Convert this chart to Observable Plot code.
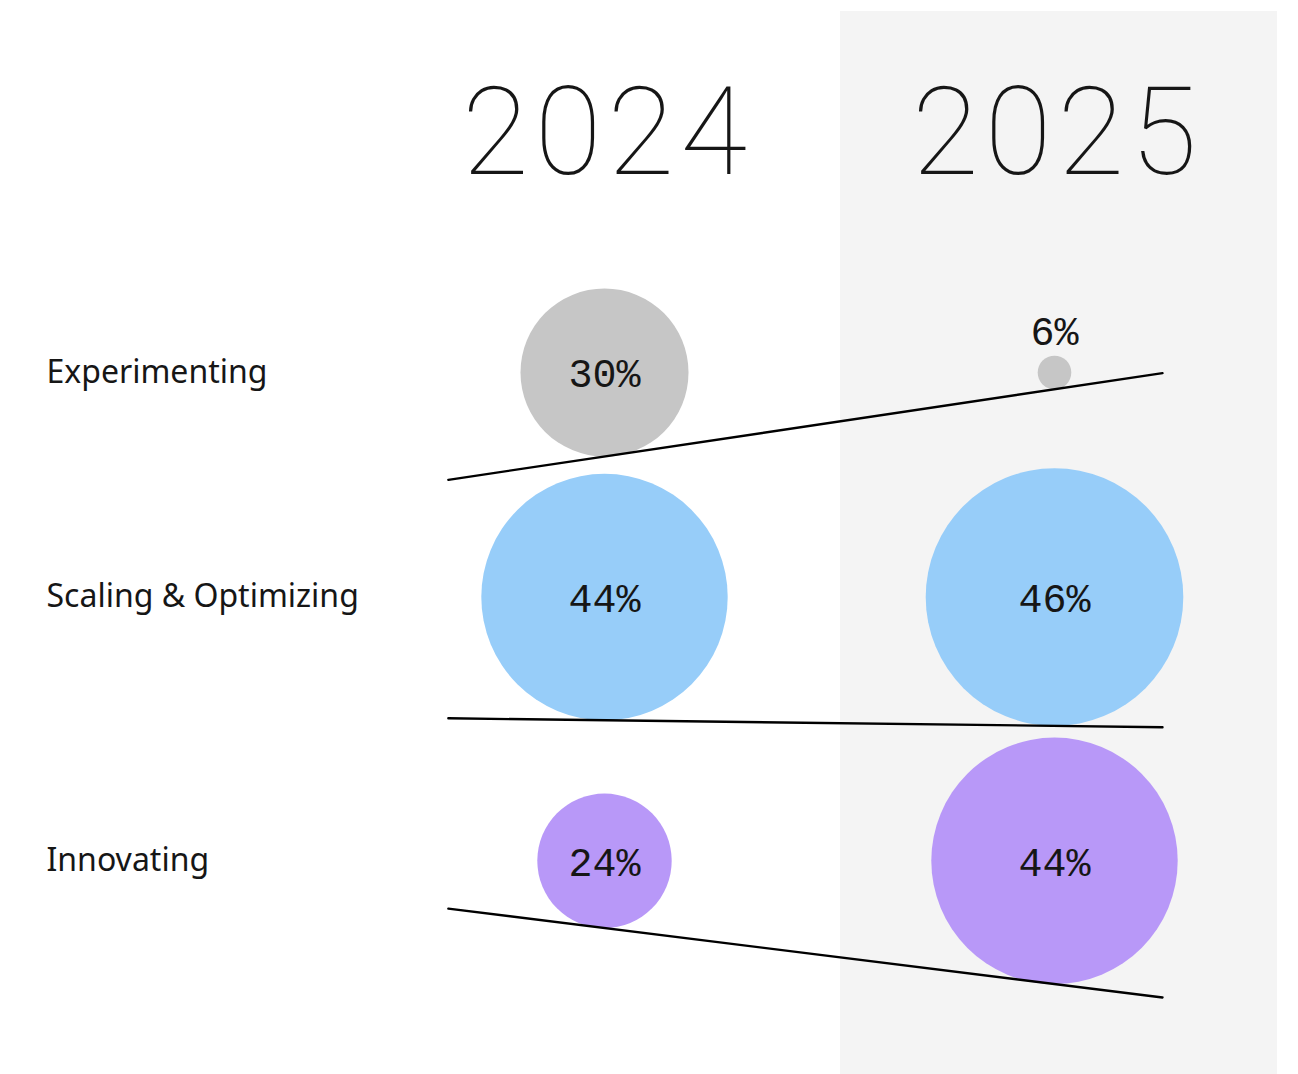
<!DOCTYPE html>
<html><head><meta charset="utf-8">
<script src="https://cdn.jsdelivr.net/npm/d3@7"></script>
<script src="https://cdn.jsdelivr.net/npm/@observablehq/plot@0.6"></script>
<style>
  html, body { margin: 0; padding: 0; background: #ffffff; }
  #chart svg { display: block; overflow: visible; }
  .year-labels text { letter-spacing: 6px; }
</style>
</head><body><div id="chart"></div>
<script>
// ---- data ----
const years = [2024, 2025];
const stages = ["Experimenting", "Scaling & Optimizing", "Innovating"];
const values2024 = [30, 44, 24];
const values2025 = [6, 46, 44];
const stageColors = ["#c6c6c6", "#97cdf9", "#b898f8"];

// ---- layout constants (not data) ----
const W = 1298, H = 1074;
const unit = 2.8;          // pixels per percentage point (bubble radius is linear in value)
const firstRowPx = 372;    // pixel row of first stage centre
const rowGap = 4.2;        // gap between stacked rows, in percentage units
const extLeft = 0.347, extRight = 0.24; // seesaw line extension, in year units

const data = stages.flatMap((stage, i) => [
  {stage, i, year: years[0], value: values2024[i]},
  {stage, i, year: years[1], value: values2025[i]}
]);

// rows stacked by their largest bubble (same units as r)
const rowMax = stages.map((s, i) => Math.max(values2024[i], values2025[i]));
const rowPos = [];
rowMax.forEach((m, i) => rowPos.push(i === 0 ? 0 : rowPos[i - 1] + rowMax[i - 1] + rowGap + m));

// seesaw lines: pass through the bottoms of both bubbles in a row
const lineData = stages.flatMap((stage, i) => {
  const b0 = rowPos[i] + values2024[i];
  const b1 = rowPos[i] + values2025[i];
  const slope = (b1 - b0) / (years[1] - years[0]);
  return [
    {stage, x: years[0] - extLeft, y: b0 - extLeft * slope},
    {stage, x: years[1] + extRight, y: b1 + extRight * slope}
  ];
});

const small = d => d.value < 10;
const pctFont = "'Liberation Mono', 'DejaVu Sans Mono', monospace";

const chart = Plot.plot({
  width: W,
  height: H,
  marginTop: 11, marginBottom: 0, marginLeft: 0, marginRight: 0,
  style: {background: "transparent"},
  x: {type: "linear", domain: [years[0], years[1]], range: [604, 1054], axis: null},
  y: {type: "linear", domain: [-firstRowPx / unit, (H - firstRowPx) / unit], range: [0, H], axis: null},
  r: {type: "linear", domain: [0, 46], range: [0, 46 * unit]},
  color: {domain: stages, range: stageColors},
  marks: [
    Plot.rect([years[1]], {x1: d => d - 0.5, x2: d => d + 0.5, insetLeft: 11, insetRight: 2, fill: "#f4f4f4"}),
    Plot.text(years, {x: d => d, frameAnchor: "top", dy: 123, dx: 3, text: d => String(d), className: "year-labels",
      fontSize: 122, fontWeight: 100, fontFamily: "Roboto, 'DejaVu Sans', sans-serif", fill: "#161616", lineAnchor: "middle"}),
    Plot.text(stages, {y: (d, i) => rowPos[i], frameAnchor: "left", dx: 46, textAnchor: "start",
      text: d => d, fontSize: 32, fontFamily: "'Noto Sans', sans-serif", fill: "#161616"}),
    Plot.dot(data, {x: "year", y: d => rowPos[d.i], r: "value", fill: "stage", stroke: null, sort: null}),
    Plot.line(lineData, {x: "x", y: "y", z: "stage", stroke: "#000000", strokeWidth: 2.4}),
    Plot.text(data.filter(d => !small(d)), {x: "year", y: d => rowPos[d.i], dy: 2, text: d => d.value + "%",
      fontSize: 40, fontFamily: pctFont, fill: "#161616"}),
    Plot.text(data.filter(small), {x: "year", y: d => rowPos[d.i] - d.value, dy: -24, text: d => d.value + "%",
      fontSize: 40, fontFamily: pctFont, fill: "#161616"})
  ]
});
document.getElementById("chart").appendChild(chart);
</script>
</body></html>
